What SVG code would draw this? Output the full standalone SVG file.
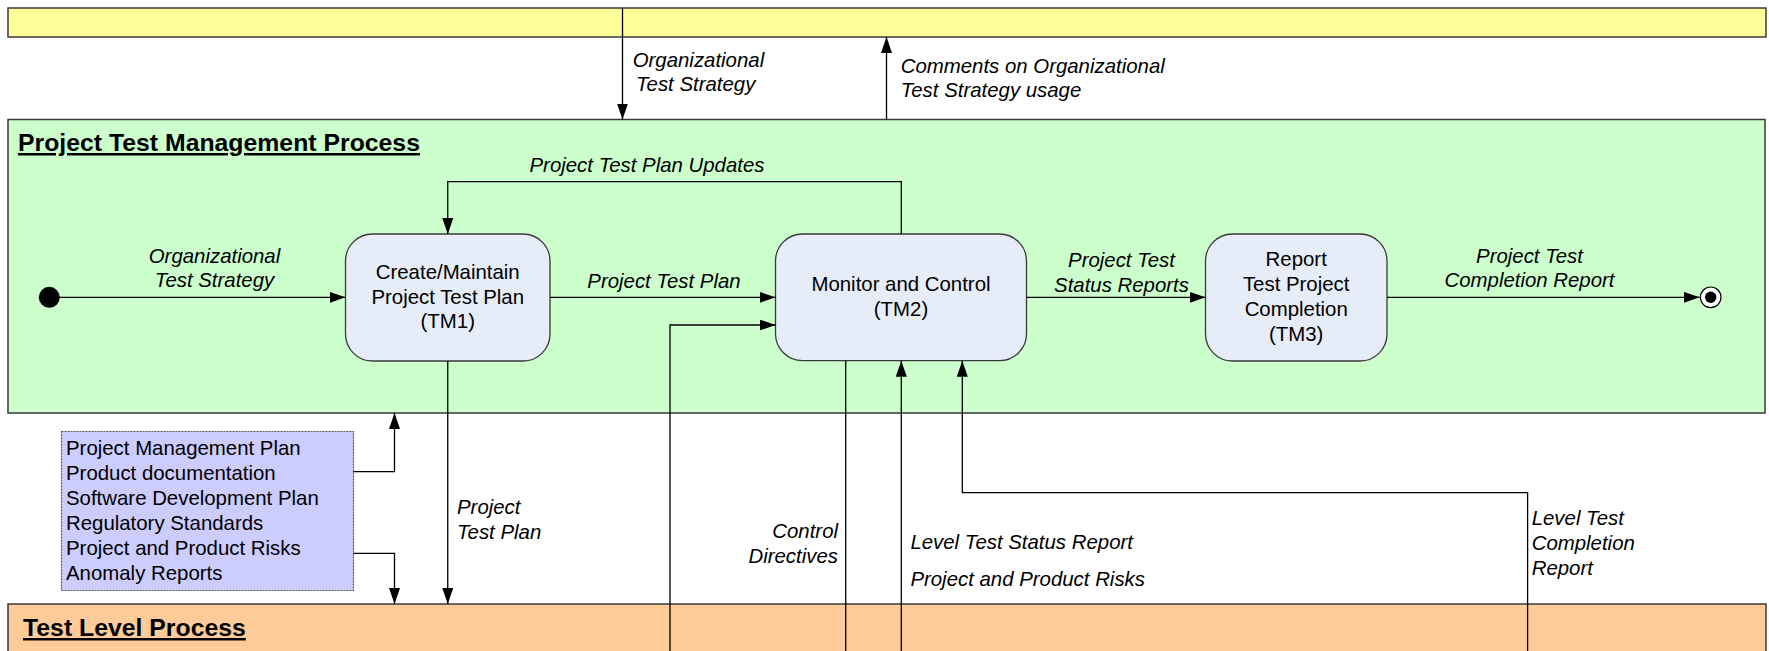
<svg xmlns="http://www.w3.org/2000/svg" width="1769" height="651" viewBox="0 0 1769 651">
<style>
text{font-family:"Liberation Sans",Arial,sans-serif;font-size:20.4px;fill:#000}
.it{font-style:italic}
.mid{text-anchor:middle}
.end{text-anchor:end}
.title{font-weight:bold;font-size:24.8px;text-decoration:underline}
.band{stroke:#3a3a3a;stroke-width:1.5}
.node{fill:#E6ECF8;stroke:#3a3a3a;stroke-width:1.3}
.c{fill:none;stroke:#000;stroke-width:1.3}
</style>
<defs>
<marker id="ah" markerUnits="userSpaceOnUse" markerWidth="17" markerHeight="12" refX="16" refY="5.5" orient="auto">
<path d="M0,0 L16,5.5 L0,11 Z" fill="#000"/>
</marker>
</defs>
<rect width="1769" height="651" fill="#fff"/>
<g id="org-process">
<rect class="band" x="8" y="8" width="1758" height="29" fill="#FFFF99"/>
</g>
<g id="project-test-management-process">
<rect class="band" x="8" y="119.5" width="1757" height="293.5" fill="#CCFFCC"/>
<text class="title" x="18" y="151">Project Test Management Process</text>
</g>
<g id="test-level-process">
<rect class="band" x="8" y="604" width="1758" height="60" fill="#FFCC99"/>
<text class="title" x="23" y="636">Test Level Process</text>
</g>
<g id="inputs">
<rect x="61.5" y="431.5" width="292" height="159" fill="#CCCCFF" stroke="#555" stroke-width="1.2" stroke-dasharray="2,1"/>
<text x="66" y="455">Project Management Plan</text>
<text x="66" y="480">Product documentation</text>
<text x="66" y="505">Software Development Plan</text>
<text x="66" y="530">Regulatory Standards</text>
<text x="66" y="555">Project and Product Risks</text>
<text x="66" y="580">Anomaly Reports</text>
</g>
<g id="start">
<circle cx="49.3" cy="297.3" r="10.5" fill="#000"/>
</g>
<g id="end">
<circle cx="1710.7" cy="297.3" r="10.3" fill="#fff" stroke="#000" stroke-width="1.2"/>
<circle cx="1710.7" cy="297.3" r="5.7" fill="#000"/>
</g>
<g id="tm1">
<rect class="node" x="345.5" y="234" width="204.5" height="127" rx="27" ry="27"/>
<text class="mid" x="447.75" y="279">Create/Maintain</text>
<text class="mid" x="447.75" y="304">Project Test Plan</text>
<text class="mid" x="447.75" y="328">(TM1)</text>
</g>
<g id="tm2">
<rect class="node" x="775.5" y="234" width="251" height="126.7" rx="27" ry="27"/>
<text class="mid" x="901" y="290.7">Monitor and Control</text>
<text class="mid" x="901" y="316">(TM2)</text>
</g>
<g id="tm3">
<rect class="node" x="1205.5" y="234" width="181.5" height="127" rx="27" ry="27"/>
<text class="mid" x="1296.2" y="265.7">Report</text>
<text class="mid" x="1296.2" y="291">Test Project</text>
<text class="mid" x="1296.2" y="316">Completion</text>
<text class="mid" x="1296.2" y="340.7">(TM3)</text>
</g>
<g id="connectors">
<path class="c" d="M622.5,8 V119.5" marker-end="url(#ah)"/>
<path class="c" d="M886.5,119.5 V37" marker-end="url(#ah)"/>
<path class="c" d="M59,297.3 H345.5" marker-end="url(#ah)"/>
<path class="c" d="M550,297.3 H775.5" marker-end="url(#ah)"/>
<path class="c" d="M1026.5,297.3 H1205.5" marker-end="url(#ah)"/>
<path class="c" d="M1387,297.3 H1699.7" marker-end="url(#ah)"/>
<path class="c" d="M901.3,234 V181.7 H447.75 V234" marker-end="url(#ah)"/>
<path class="c" d="M447.75,361 V604" marker-end="url(#ah)"/>
<path class="c" d="M353.5,471.7 H394.5 V413" marker-end="url(#ah)"/>
<path class="c" d="M353.5,553.3 H394.5 V604" marker-end="url(#ah)"/>
<path class="c" d="M670,660 V325 H775.5" marker-end="url(#ah)"/>
<path class="c" d="M845.7,360.7 V660"/>
<path class="c" d="M901.3,660 V360.7" marker-end="url(#ah)"/>
<path class="c" d="M1527.6,660 V492.7 H962.3 V360.7" marker-end="url(#ah)"/>
<text class="it" x="632.7" y="67">Organizational</text>
<text class="it" x="636" y="90.5">Test Strategy</text>
<text class="it" x="900.7" y="72.7">Comments on Organizational</text>
<text class="it" x="900.7" y="96.7">Test Strategy usage</text>
<text class="it mid" x="214.5" y="263.3">Organizational</text>
<text class="it mid" x="214.5" y="286.7">Test Strategy</text>
<text class="it mid" x="664" y="288">Project Test Plan</text>
<text class="it mid" x="647" y="172">Project Test Plan Updates</text>
<text class="it mid" x="1121.5" y="266.7">Project Test</text>
<text class="it mid" x="1121.5" y="291.7">Status Reports</text>
<text class="it mid" x="1529.5" y="263.3">Project Test</text>
<text class="it mid" x="1529.5" y="286.7">Completion Report</text>
<text class="it" x="457" y="514">Project</text>
<text class="it" x="457" y="539">Test Plan</text>
<text class="it end" x="838" y="538">Control</text>
<text class="it end" x="838" y="563">Directives</text>
<text class="it" x="910.4" y="548.5">Level Test Status Report</text>
<text class="it" x="910.4" y="585.5">Project and Product Risks</text>
<text class="it" x="1531.7" y="525">Level Test</text>
<text class="it" x="1531.7" y="550">Completion</text>
<text class="it" x="1531.7" y="574.5">Report</text>
</g>
</svg>
